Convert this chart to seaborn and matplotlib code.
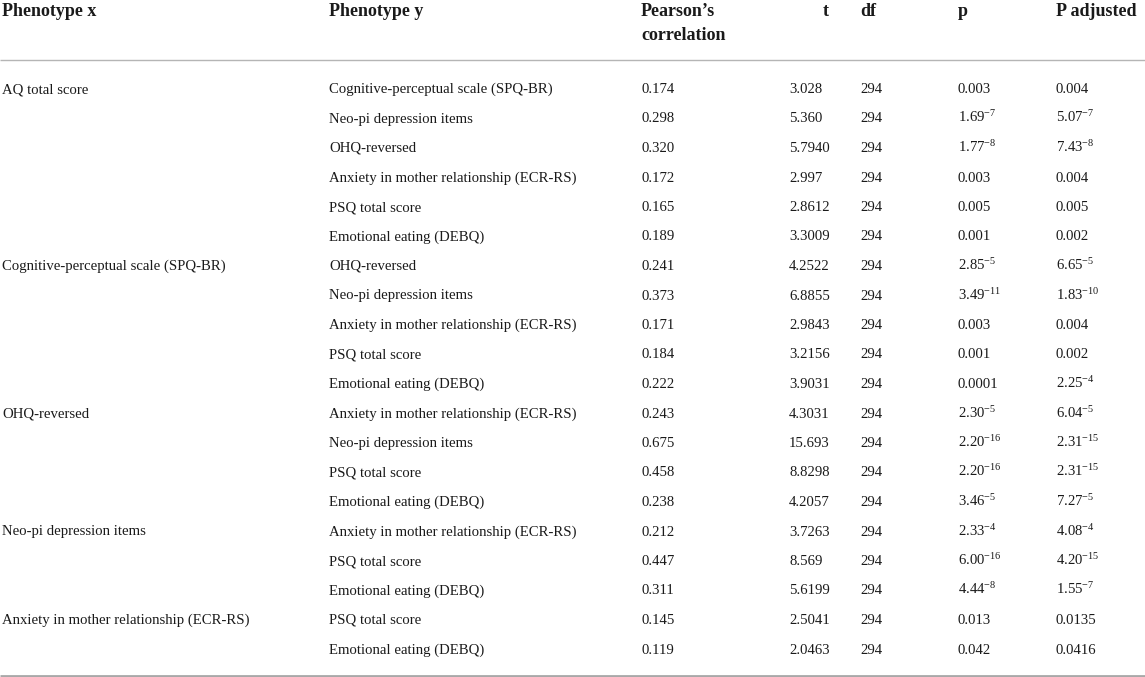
import matplotlib
matplotlib.use("Agg")
import matplotlib.pyplot as plt
import seaborn as sns
import pandas as pd

# ---- data ----
phenotype_x = ["AQ total score", "", "", "", "", "",
               "Cognitive-perceptual scale (SPQ-BR)", "", "", "", "",
               "OHQ-reversed", "", "", "",
               "Neo-pi depression items", "", "",
               "Anxiety in mother relationship (ECR-RS)", ""]
phenotype_y = ["Cognitive-perceptual scale (SPQ-BR)", "Neo-pi depression items", "OHQ-reversed",
               "Anxiety in mother relationship (ECR-RS)", "PSQ total score", "Emotional eating (DEBQ)",
               "OHQ-reversed", "Neo-pi depression items", "Anxiety in mother relationship (ECR-RS)",
               "PSQ total score", "Emotional eating (DEBQ)",
               "Anxiety in mother relationship (ECR-RS)", "Neo-pi depression items", "PSQ total score",
               "Emotional eating (DEBQ)",
               "Anxiety in mother relationship (ECR-RS)", "PSQ total score", "Emotional eating (DEBQ)",
               "PSQ total score", "Emotional eating (DEBQ)"]
pearson = ["0.174", "0.298", "0.320", "0.172", "0.165", "0.189",
           "0.241", "0.373", "0.171", "0.184", "0.222",
           "0.243", "0.675", "0.458", "0.238",
           "0.212", "0.447", "0.311",
           "0.145", "0.119"]
t_vals = ["3.028", "5.360", "5.7940", "2.997", "2.8612", "3.3009",
          "4.2522", "6.8855", "2.9843", "3.2156", "3.9031",
          "4.3031", "15.693", "8.8298", "4.2057",
          "3.7263", "8.569", "5.6199",
          "2.5041", "2.0463"]
df_vals = ["294"] * 20
p_mant = ["0.003", "1.69", "1.77", "0.003", "0.005", "0.001",
          "2.85", "3.49", "0.003", "0.001", "0.0001",
          "2.30", "2.20", "2.20", "3.46",
          "2.33", "6.00", "4.44",
          "0.013", "0.042"]
p_exp = ["", "7", "8", "", "", "",
         "5", "11", "", "", "",
         "5", "16", "16", "5",
         "4", "16", "8",
         "", ""]
padj_mant = ["0.004", "5.07", "7.43", "0.004", "0.005", "0.002",
             "6.65", "1.83", "0.004", "0.002", "2.25",
             "6.04", "2.31", "2.31", "7.27",
             "4.08", "4.20", "1.55",
             "0.0135", "0.0416"]
padj_exp = ["", "7", "8", "", "", "",
            "5", "10", "", "", "4",
            "5", "15", "15", "5",
            "4", "15", "7",
            "", ""]
headers = ["Phenotype x", "Phenotype y", "Pearson\u2019s\ncorrelation", "t", "df", "p", "P adjusted"]

table = pd.DataFrame({"x": phenotype_x, "y": phenotype_y, "r": pearson, "t": t_vals, "df": df_vals,
                      "pm": p_mant, "pe": p_exp, "am": padj_mant, "ae": padj_exp})

# ---- style ----
sns.set_theme(style="white")
plt.rcParams["font.family"] = ["Liberation Serif", "DejaVu Serif"]
plt.rcParams["mathtext.fontset"] = "custom"
plt.rcParams["mathtext.rm"] = "Liberation Serif"
plt.rcParams["mathtext.it"] = "Liberation Serif:italic"
plt.rcParams["mathtext.bf"] = "Liberation Serif:bold"

W, H = 1145, 677
fig = plt.figure(figsize=(W / 100, H / 100), dpi=100)
ax = fig.add_axes([0, 0, 1, 1])
ax.set_xlim(0, W)
ax.set_ylim(H, 0)
ax.axis("off")

txt_color = "#1a1a1a"
body_fs = 10.6
head_fs = 13

col_x = [2, 329, 641, 789, 860, 958, 1056]

def fmt(m, e):
    return m if e == "" else m + r"$^{\mathrm{-" + e + r"}}$"

# headers
head_base = 16
for i, h in enumerate(headers):
    if i == 3:
        ax.text(826, head_base, h, ha="center", va="baseline", fontsize=head_fs,
                fontweight="bold", color=txt_color)
    elif "\n" in h:
        a, b = h.split("\n")
        ax.text(col_x[i], head_base, a, ha="left", va="baseline", fontsize=head_fs,
                fontweight="bold", color=txt_color)
        ax.text(col_x[i], head_base + 24, b, ha="left", va="baseline", fontsize=head_fs,
                fontweight="bold", color=txt_color)
    else:
        ax.text(col_x[i], head_base, h, ha="left", va="baseline", fontsize=head_fs,
                fontweight="bold", color=txt_color)

# lines
ax.plot([0, W], [60, 60], color="#b5b5b5", lw=1.0, solid_capstyle="butt")
ax.plot([0, W], [675.5, 675.5], color="#a8a8a8", lw=2.0, solid_capstyle="butt")

# rows
base0 = 93
step = 29.5
for k, row in table.iterrows():
    yb = base0 + k * step
    vals = [row["x"], row["y"], row["r"], row["t"], row["df"],
            fmt(row["pm"], row["pe"]), fmt(row["am"], row["ae"])]
    for i, v in enumerate(vals):
        if v:
            ax.text(col_x[i], yb, v, ha="left", va="baseline", fontsize=body_fs, color=txt_color)

fig.savefig("out.png", dpi=100, facecolor="white")
